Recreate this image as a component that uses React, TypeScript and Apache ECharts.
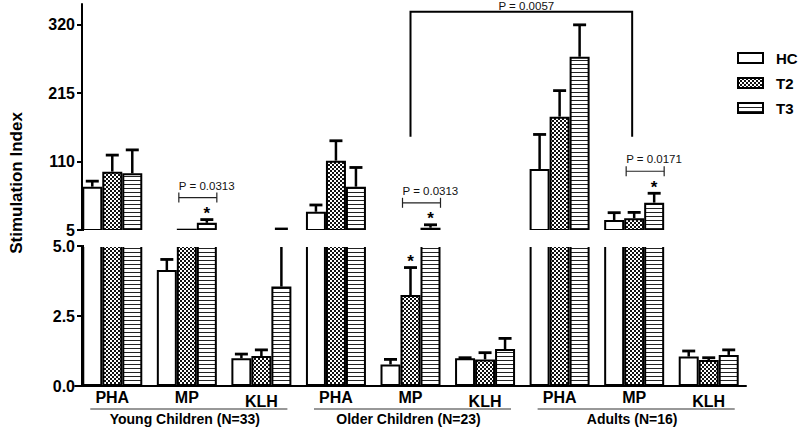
import React, { useEffect, useRef } from 'react';
import * as echarts from 'echarts';

const FONT = '"Liberation Sans", Arial, Helvetica, sans-serif';

const categories = ['PHA', 'MP', 'KLH', 'PHA', 'MP', 'KLH', 'PHA', 'MP', 'KLH'];
const groups = ['Young Children (N=33)', 'Older Children (N=23)', 'Adults (N=16)'];
const seriesNames = ['HC', 'T2', 'T3'];

const hcValues = [71.5, 4.14, 0.99, 33, 0.77, 0.99, 98.7, 20.4, 1.05];
const hcSem = [8.5, 0.38, 0.15, 10.4, 0.18, 0.02, 53, 11.2, 0.2];
const t2Values = [94.6, 7, 1.07, 111.5, 3.25, 0.95, 179, 23, 0.93];
const t2Sem = [25.4, 0, 0.22, 30.5, 0.98, 0.24, 40, 9, 0.08];
const t3Values = [92, 16, 3.55, 71.5, 8.5, 1.32, 271, 47, 1.11];
const t3Sem = [36, 5, 3.0, 29.5, 4.5, 0.38, 49, 14.4, 0.18];

const upperTicks = [5, 110, 215, 320];
const lowerTicks = [0, 2.5, 5];

const pTests = [
  { cat: 1, label: 'P = 0.0313' },
  { cat: 4, label: 'P = 0.0313' },
  { cat: 7, label: 'P = 0.0171' },
];
// [category, series index]
const stars = [
  [1, 2],
  [4, 1],
  [4, 2],
  [7, 2],
];
const crossTest = { from: 4, to: 7, low: 148, high: 340, label: 'P = 0.0057' };

const BAR_W = 20;
const UPPER_MIN = 5;

function makePattern(kind: string) {
  const c = document.createElement('canvas');
  c.width = 4;
  c.height = 4;
  const ctx = c.getContext('2d')!;
  ctx.fillStyle = '#fff';
  ctx.fillRect(0, 0, 4, 4);
  if (kind === 'check') {
    ctx.fillStyle = '#111';
    ctx.fillRect(0, 0, 2, 2);
    ctx.fillRect(2, 2, 2, 2);
  } else if (kind === 'stripe') {
    ctx.fillStyle = '#222';
    ctx.fillRect(0, 0, 4, 1);
  }
  return { image: c, repeat: 'repeat', imageWidth: 4, imageHeight: 4 } as any;
}

export default function App() {
  const ref = useRef<HTMLDivElement>(null);

  useEffect(() => {
    if (!ref.current) return;
    const chart = echarts.init(ref.current, null, { renderer: 'svg' });

    const values = [hcValues, t2Values, t3Values];
    const sems = [hcSem, t2Sem, t3Sem];
    const fills: any[] = ['#ffffff', makePattern('check'), makePattern('stripe')];

    const series: any[] = [];
    [0, 1].forEach((g) => {
      [0, 1, 2].forEach((s) => {
        series.push({
          type: 'bar',
          name: seriesNames[s],
          xAxisIndex: g,
          yAxisIndex: g,
          data: values[s],
          barWidth: BAR_W,
          barGap: '0%',
          silent: true,
          z: 2,
          itemStyle: { color: fills[s], borderColor: '#000', borderWidth: 2 },
        });
      });
    });

    [0, 1].forEach((g) => {
      [0, 1, 2].forEach((s) => {
        series.push({
          type: 'custom',
          name: 'err' + s,
          xAxisIndex: g,
          yAxisIndex: g,
          clip: true,
          silent: true,
          z: 3,
          data: values[s].map((v, i) => [i, v, v + sems[s][i]]),
          renderItem: (params: any, api: any) => {
            const cat = api.value(0);
            const v = api.value(1);
            const top = api.value(2);
            if (top <= v || (g === 0 && top <= UPPER_MIN)) return { type: 'group', children: [] };
            const p0 = api.coord([cat, v]);
            const p1 = api.coord([cat, top]);
            const x = p0[0] + (s - 1) * BAR_W;
            return {
              type: 'group',
              children: [
                { type: 'line', shape: { x1: x, y1: p0[1], x2: x, y2: p1[1] }, style: { stroke: '#000', lineWidth: 2.5 } },
                { type: 'line', shape: { x1: x - 6.5, y1: p1[1], x2: x + 6.5, y2: p1[1] }, style: { stroke: '#000', lineWidth: 2.8 } },
              ],
            };
          },
        });
      });
    });

    // significance stars
    [0, 1].forEach((g) => {
      const data = stars
        .map(([cat, s]) => [cat, values[s][cat] + sems[s][cat], s])
        .filter((d) => (g === 0 ? d[1] > UPPER_MIN : d[1] <= UPPER_MIN));
      series.push({
        type: 'custom',
        name: 'stars' + g,
        xAxisIndex: g,
        yAxisIndex: g,
        clip: false,
        silent: true,
        z: 4,
        data,
        renderItem: (params: any, api: any) => {
          const p = api.coord([api.value(0), api.value(1)]);
          const x = p[0] + (api.value(2) - 1) * BAR_W;
          return {
            type: 'text',
            x,
            y: p[1] - 6,
            style: { text: '*', font: `bold 17px ${FONT}`, fill: '#000', align: 'center', verticalAlign: 'middle' },
          };
        },
      });
    });

    // p-value brackets between T2 and T3
    series.push({
      type: 'custom',
      name: 'pbrackets',
      xAxisIndex: 0,
      yAxisIndex: 0,
      clip: false,
      silent: true,
      z: 4,
      data: pTests.map((p) => [p.cat, t3Values[p.cat] + t3Sem[p.cat]]),
      renderItem: (params: any, api: any) => {
        const p = api.coord([api.value(0), api.value(1)]);
        const x1 = p[0] - 8;
        const x2 = p[0] + 30;
        const y = p[1] - 22;
        return {
          type: 'group',
          children: [
            { type: 'line', shape: { x1, y1: y, x2, y2: y }, style: { stroke: '#222', lineWidth: 1.2 } },
            { type: 'line', shape: { x1, y1: y - 5, x2: x1, y2: y + 5 }, style: { stroke: '#222', lineWidth: 1.2 } },
            { type: 'line', shape: { x1: x2, y1: y - 5, x2, y2: y + 5 }, style: { stroke: '#222', lineWidth: 1.2 } },
            {
              type: 'text',
              x: x1,
              y: y - 12,
              style: { text: pTests[params.dataIndex].label, font: `11.5px ${FONT}`, fill: '#111', align: 'left', verticalAlign: 'middle' },
            },
          ],
        };
      },
    });

    // cross-group bracket
    series.push({
      type: 'custom',
      name: 'crossbracket',
      xAxisIndex: 0,
      yAxisIndex: 0,
      clip: false,
      silent: true,
      z: 4,
      data: [[crossTest.from, crossTest.low, crossTest.to, crossTest.high]],
      renderItem: (params: any, api: any) => {
        const a = api.coord([api.value(0), api.value(1)]);
        const b = api.coord([api.value(2), api.value(1)]);
        const t = api.coord([api.value(0), api.value(3)]);
        const xa = a[0];
        const xb = b[0] - 2;
        return {
          type: 'group',
          children: [
            { type: 'polyline', shape: { points: [[xa, a[1]], [xa, t[1]], [xb, t[1]], [xb, b[1]]] }, style: { stroke: '#000', lineWidth: 2, fill: null } },
            {
              type: 'text',
              x: (xa + xb) / 2 + 5,
              y: t[1] - 6,
              style: { text: crossTest.label, font: `11.5px ${FONT}`, fill: '#111', align: 'center', verticalAlign: 'middle' },
            },
          ],
        };
      },
    });

    // group underlines & names
    series.push({
      type: 'custom',
      name: 'groups',
      xAxisIndex: 1,
      yAxisIndex: 1,
      clip: false,
      silent: true,
      z: 4,
      data: groups.map((g, i) => [i * 3, 0, i * 3 + 2]),
      renderItem: (params: any, api: any) => {
        const a = api.coord([api.value(0), 0]);
        const b = api.coord([api.value(2), 0]);
        const x1 = a[0] - 22;
        const x2 = b[0] + 26;
        const y = a[1] + 23;
        return {
          type: 'group',
          children: [
            { type: 'line', shape: { x1, y1: y, x2, y2: y }, style: { stroke: '#333', lineWidth: 1.2 } },
            {
              type: 'text',
              x: (x1 + x2) / 2 - 4,
              y: y + 10,
              style: { text: groups[params.dataIndex], font: `bold 14px ${FONT}`, fill: '#000', align: 'center', verticalAlign: 'middle' },
            },
          ],
        };
      },
    });

    const axisLabelStyle = { color: '#000', fontFamily: FONT, fontWeight: 'bold', fontSize: 16 };

    const option: any = {
      animation: false,
      backgroundColor: '#ffffff',
      textStyle: { fontFamily: FONT },
      legend: {
        data: seriesNames,
        orient: 'vertical',
        left: 737,
        top: 50.5,
        padding: 0,
        icon: 'rect',
        itemWidth: 25,
        itemHeight: 10,
        itemGap: 10,
        selectedMode: false,
        textStyle: { color: '#000', fontFamily: FONT, fontWeight: 'bold', fontSize: 15, lineHeight: 15, padding: [0, 0, 0, 8] },
      },
      grid: [
        { left: 75, width: 671, top: 4, height: 226 },
        { left: 75, width: 671, top: 246, height: 140 },
      ],
      xAxis: [
        { type: 'category', data: categories, gridIndex: 0, show: false },
        {
          type: 'category',
          data: categories,
          gridIndex: 1,
          axisLine: { lineStyle: { color: '#000', width: 2 } },
          axisTick: { show: false },
          axisLabel: {
            interval: 0,
            margin: 3,
            formatter: (v: string) => (v === 'KLH' ? `{k|${v}}` : `{n|${v}}`),
            rich: {
              n: { color: '#000', fontFamily: FONT, fontWeight: 'bold', fontSize: 16 },
              k: { color: '#000', fontFamily: FONT, fontWeight: 'bold', fontSize: 16, padding: [4, 0, 0, 0] },
            },
          },
        },
      ],
      yAxis: [
        {
          type: 'value',
          gridIndex: 0,
          min: UPPER_MIN,
          max: 352,
          offset: -7,
          axisLine: { show: true, lineStyle: { color: '#000', width: 2 } },
          axisTick: { show: true, length: 5, lineStyle: { color: '#000', width: 2 }, customValues: upperTicks },
          axisLabel: { ...axisLabelStyle, margin: 7, customValues: upperTicks },
          splitLine: { show: false },
        },
        {
          type: 'value',
          gridIndex: 1,
          min: 0,
          max: 5,
          offset: -7,
          axisLine: { show: true, lineStyle: { color: '#000', width: 2 } },
          axisTick: { show: true, length: 5, lineStyle: { color: '#000', width: 2 }, customValues: lowerTicks },
          axisLabel: { ...axisLabelStyle, margin: 7, customValues: lowerTicks, formatter: (v: number) => v.toFixed(1) },
          splitLine: { show: false },
        },
      ],
      graphic: [
        {
          type: 'rect',
          z: 100,
          silent: true,
          shape: { x: 84, y: 229.9, width: 680, height: 17.2 },
          style: { fill: '#ffffff' },
        },
        {
          type: 'text',
          z: 100,
          x: 16,
          y: 183,
          rotation: Math.PI / 2,
          style: { text: 'Stimulation Index', font: `bold 17px ${FONT}`, fill: '#000', align: 'center', verticalAlign: 'middle' },
        },
      ],
      series,
    };

    chart.setOption(option);
    return () => chart.dispose();
  }, []);

  return <div ref={ref} style={{ position: 'fixed', left: 0, top: 0, width: 800, height: 430, background: '#fff' }} />;
}
